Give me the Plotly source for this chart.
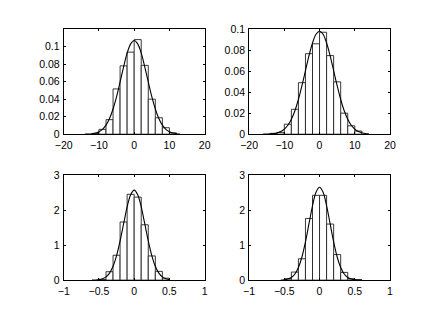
import plotly.graph_objects as go

# Data: histogram bins (centers, heights) and fitted curves, one set per panel
BIN_W_A = 2.0
CENTERS_A = [-11, -9, -7, -5, -3, -1, 1, 3, 5, 7, 9, 11]
HEIGHTS_A = [0.0008, 0.0055, 0.0166, 0.0517, 0.0780, 0.0937, 0.1080, 0.0786, 0.0400, 0.0188, 0.0074, 0.0015]
CURVE_XA = [-14, -13, -12, -11, -10, -9, -8, -7, -6, -5, -4, -3, -2, -1, 0,
            1, 2, 3, 4, 5, 6, 7, 8, 9, 10, 11, 12, 13]
CURVE_YA = [0.0001, 0.0002, 0.00056, 0.0013, 0.0028, 0.0056, 0.0103, 0.0179, 0.0288, 0.0429,
            0.0597, 0.0770, 0.0925, 0.1031, 0.1070, 0.1031, 0.0925, 0.0770, 0.0597, 0.0429,
            0.0288, 0.0179, 0.0103, 0.0056, 0.0028, 0.0013, 0.00056, 0.0002]

BIN_W_B = 2.0
CENTERS_B = [-13, -11, -9, -7, -5, -3, -1, 1, 3, 5, 7, 9, 11]
HEIGHTS_B = [0.0008, 0.0015, 0.0095, 0.0237, 0.0490, 0.0766, 0.0860, 0.0970, 0.0748, 0.0498, 0.0200, 0.0080, 0.0030]
CURVE_XB = [-16, -15, -14, -13, -12, -11, -10, -9, -8, -7, -6, -5, -4, -3, -2, -1, 0,
            1, 2, 3, 4, 5, 6, 7, 8, 9, 10, 11, 12, 13, 14]
CURVE_YB = [0.00004, 0.0001, 0.00026, 0.0006, 0.0013, 0.0025, 0.0048, 0.0085, 0.0142, 0.0223,
            0.0330, 0.0461, 0.0604, 0.0747, 0.0868, 0.0951, 0.0980, 0.0951, 0.0868, 0.0747,
            0.0604, 0.0461, 0.0330, 0.0223, 0.0142, 0.0085, 0.0048, 0.0025, 0.0013, 0.0006, 0.00026]

BIN_W_C = 0.1
CENTERS_C = [-0.45, -0.35, -0.25, -0.15, -0.05, 0.05, 0.15, 0.25, 0.35, 0.45]
HEIGHTS_C = [0.02, 0.24, 0.71, 1.66, 2.45, 2.37, 1.58, 0.69, 0.25, 0.055]
CURVE_XC = [-0.6, -0.55, -0.5, -0.45, -0.4, -0.35, -0.3, -0.25, -0.2, -0.15, -0.1, -0.05, 0,
            0.05, 0.1, 0.15, 0.2, 0.25, 0.3, 0.35, 0.4, 0.45, 0.5]
CURVE_YC = [0.0014, 0.0047, 0.014, 0.038, 0.092, 0.200, 0.394, 0.70, 1.12, 1.61, 2.09, 2.44, 2.57,
            2.44, 2.09, 1.61, 1.12, 0.70, 0.394, 0.200, 0.092, 0.038, 0.014]

BIN_W_D = 0.1
CENTERS_D = [-0.45, -0.35, -0.25, -0.15, -0.05, 0.05, 0.15, 0.25, 0.35, 0.45, 0.55]
HEIGHTS_D = [0.04, 0.23, 0.61, 1.76, 2.42, 2.42, 1.60, 0.73, 0.22, 0.04, 0.01]
CURVE_XD = [-0.55, -0.5, -0.45, -0.4, -0.35, -0.3, -0.25, -0.2, -0.15, -0.1, -0.05, 0,
            0.05, 0.1, 0.15, 0.2, 0.25, 0.3, 0.35, 0.4, 0.45, 0.5, 0.55, 0.6]
CURVE_YD = [0.003, 0.010, 0.029, 0.076, 0.174, 0.359, 0.66, 1.09, 1.61, 2.12, 2.51, 2.65,
            2.51, 2.12, 1.61, 1.09, 0.66, 0.359, 0.174, 0.076, 0.029, 0.010, 0.003, 0.0009]

panels = [
    (CENTERS_A, HEIGHTS_A, BIN_W_A, CURVE_XA, CURVE_YA, [-20, 20], [0, 0.12],
     [-20, -10, 0, 10, 20], [0, 0.02, 0.04, 0.06, 0.08, 0.1], [0.13, 0.4647], [0.5838, 0.925]),
    (CENTERS_B, HEIGHTS_B, BIN_W_B, CURVE_XB, CURVE_YB, [-20, 20], [0, 0.1],
     [-20, -10, 0, 10, 20], [0, 0.02, 0.04, 0.06, 0.08, 0.1], [0.5703, 0.905], [0.5838, 0.925]),
    (CENTERS_C, HEIGHTS_C, BIN_W_C, CURVE_XC, CURVE_YC, [-1, 1], [0, 3],
     [-1, -0.5, 0, 0.5, 1], [0, 1, 2, 3], [0.13, 0.4647], [0.11, 0.4512]),
    (CENTERS_D, HEIGHTS_D, BIN_W_D, CURVE_XD, CURVE_YD, [-1, 1], [0, 3],
     [-1, -0.5, 0, 0.5, 1], [0, 1, 2, 3], [0.5703, 0.905], [0.11, 0.4512]),
]

fig = go.Figure()
layout = {}
for i, (cx, hy, bw, kx, ky, xr, yr, xt, yt, xd, yd) in enumerate(panels, start=1):
    xa = "x" if i == 1 else "x%d" % i
    ya = "y" if i == 1 else "y%d" % i
    # histogram bars, white with thin dark edges
    fig.add_trace(go.Bar(x=cx, y=hy, width=bw, xaxis=xa, yaxis=ya,
                         marker=dict(color="white", line=dict(color="#222222", width=0.9))))
    # fitted curve
    fig.add_trace(go.Scatter(x=kx, y=ky, mode="lines", xaxis=xa, yaxis=ya,
                             line=dict(color="black", width=1.1, shape="spline")))
    axis_style = dict(showline=True, linecolor="black", linewidth=1, mirror="ticks",
                      ticks="inside", ticklen=2, tickcolor="black", showgrid=False,
                      zeroline=False, fixedrange=True, ticklabelstandoff=1)
    layout["xaxis" if i == 1 else "xaxis%d" % i] = dict(
        domain=xd, range=xr, tickvals=xt, anchor=ya, **axis_style)
    layout["yaxis" if i == 1 else "yaxis%d" % i] = dict(
        domain=yd, range=yr, tickvals=yt, anchor=xa, **axis_style)

fig.update_layout(**layout)
fig.update_layout(width=436, height=320, margin=dict(l=0, r=0, t=0, b=0),
                  paper_bgcolor="white", plot_bgcolor="white", showlegend=False,
                  bargap=0, font=dict(family="Liberation Sans", size=10.5, color="black"))

fig.write_html("out.html", config={"staticPlot": True},
               post_script="document.body.style.margin='0px';")
